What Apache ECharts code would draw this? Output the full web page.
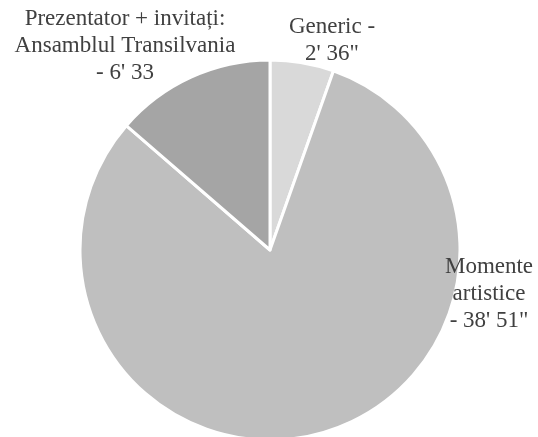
<!DOCTYPE html>
<html>
<head>
<meta charset="utf-8">
<script src="https://cdn.jsdelivr.net/npm/echarts@6/dist/echarts.min.js"></script>
<style>html,body{margin:0;padding:0;background:#fff;}#c{width:538px;height:437px;}</style>
</head>
<body>
<div id="c"></div>
<script>
var categories = ['Generic', 'Momente artistice', 'Prezentator + invitați: Ansamblul Transilvania'];
var labels = ['Generic -\n2\' 36"', 'Momente\nartistice\n- 38\' 51"', 'Prezentator + invitați:\nAnsamblul Transilvania\n- 6\' 33'];
var seconds = [156, 2331, 393];
var colors = ['#d9d9d9', '#bfbfbf', '#a5a5a5'];
var labelPos = [[332, 40], [489, 294], [125, 46]];

var chart = echarts.init(document.getElementById('c'), null, {renderer: 'canvas'});
chart.setOption({
  animation: false,
  series: [{
    type: 'pie',
    center: [270, 250],
    radius: 190,
    startAngle: 90,
    clockwise: true,
    data: categories.map(function (c, i) {
      return {name: c, value: seconds[i], itemStyle: {color: colors[i]}};
    }),
    itemStyle: {borderColor: '#ffffff', borderWidth: 3},
    label: {
      show: true,
      formatter: function (p) { return labels[p.dataIndex]; },
      fontFamily: '"Liberation Serif", "Times New Roman", serif',
      fontSize: 23,
      lineHeight: 27,
      color: '#404040',
      align: 'center',
      overflow: 'none'
    },
    labelLine: {show: false},
    labelLayout: function (p) {
      var pos = labelPos[p.dataIndex];
      return {x: pos[0], y: pos[1], align: 'center', verticalAlign: 'middle'};
    },
    emphasis: {disabled: true}
  }]
});
</script>
</body>
</html>
